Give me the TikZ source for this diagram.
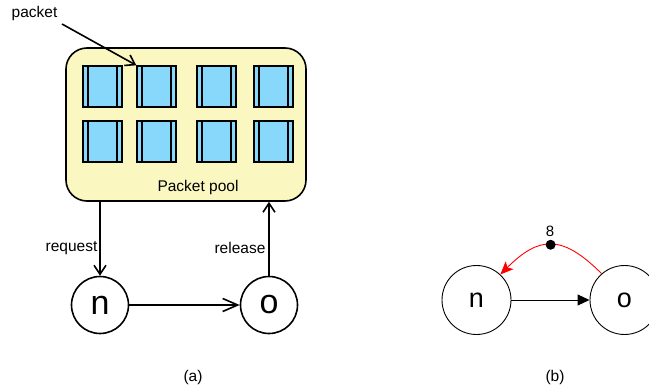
\documentclass[tikz,border=0pt]{standalone}
\usepackage{fontspec}
\setmainfont{Liberation Sans}
\usetikzlibrary{arrows.meta}

\definecolor{poolfill}{RGB}{250,247,192}
\definecolor{pktfill}{RGB}{135,216,250}

\tikzset{
  thickline/.style={line width=1.6pt},
  thinline/.style={line width=0.9pt},
  lbl/.style={font=\fontsize{15.5}{18}\selectfont, inner sep=0pt, anchor=base},
  pool/.style={thickline, draw=black, fill=poolfill, rounded corners=21pt,
    minimum width=240pt, minimum height=153pt, inner sep=0pt},
  pkt/.style={line width=1.4pt, draw=black, fill=pktfill,
    minimum width=39pt, minimum height=41pt, inner sep=0pt,
    path picture={
      \draw[line width=1.2pt]
        ([xshift=5pt]path picture bounding box.north west) --
        ([xshift=5pt]path picture bounding box.south west);
      \draw[line width=1.2pt]
        ([xshift=-5pt]path picture bounding box.north east) --
        ([xshift=-5pt]path picture bounding box.south east);
    }},
  bigstate/.style={circle, thickline, draw=black, minimum size=57pt, inner sep=0pt,
    font=\fontsize{34}{40}\selectfont},
  smallstate/.style={circle, thinline, draw=black, minimum size=69pt, inner sep=0pt,
    font=\fontsize{27}{32}\selectfont},
  barb/.style={-{Straight Barb[length=9pt,width=12pt]}},
  longbarb/.style={-{Straight Barb[length=15pt,width=13pt]}},
}

\begin{document}
\begin{tikzpicture}[x=1pt,y=-1pt]
  \useasboundingbox (0,0) rectangle (649,388);
  \clip (0,0) rectangle (649,388);

  % ---------- (a) packet pool ----------
  \node[pool] (pool) at (186,124.5) {};
  \node[lbl] (poollbl) at (198,191) {Packet pool};

  \foreach \c/\x in {1/102.5,2/156.5,3/216.5,4/273.5}{
    \node[pkt] (p1\c) at (\x,86.5) {};
    \node[pkt] (p2\c) at (\x,141.5) {};
  }

  \node[lbl] (pktlbl) at (34.5,17) {packet};
  \coordinate (pktstart) at (62,24);
  \draw[thickline, barb] (pktstart) -- (p12.north west);

  \node[bigstate] (na) at (100,305) {n};
  \node[bigstate] (oa) at (269,305) {o};

  \draw[thickline, barb] (pool.south -| na) -- (na.north);
  \draw[thickline, barb] (oa.north) -- (oa |- pool.south);
  \draw[thickline, longbarb] (na) -- (oa);

  \node[lbl] (reqlbl) at (71.5,251) {request};
  \node[lbl] (rellbl) at (240,253) {release};
  \node[lbl] (capa) at (193,381) {(a)};

  % ---------- (b) ----------
  \node[smallstate] (nb) at (476.5,300) {n};
  \node[smallstate] (ob) at (624.5,300) {o};

  \draw[thinline, -{Triangle[length=12pt,width=11pt]}] (nb) -- (ob);
  \draw[thinline, red, -{Stealth[length=13pt,width=11pt,inset=3pt]}]
    (ob.131) .. controls (562,234) and (539,236) .. (nb.47)
    node[pos=0.5, circle, fill=black, inner sep=0pt, minimum size=10pt] (dot) {};
  \node[lbl, font=\fontsize{15}{18}\selectfont] (w8) at (550,236) {8};

  \node[lbl] (capb) at (555,381) {(b)};
\end{tikzpicture}
\end{document}
